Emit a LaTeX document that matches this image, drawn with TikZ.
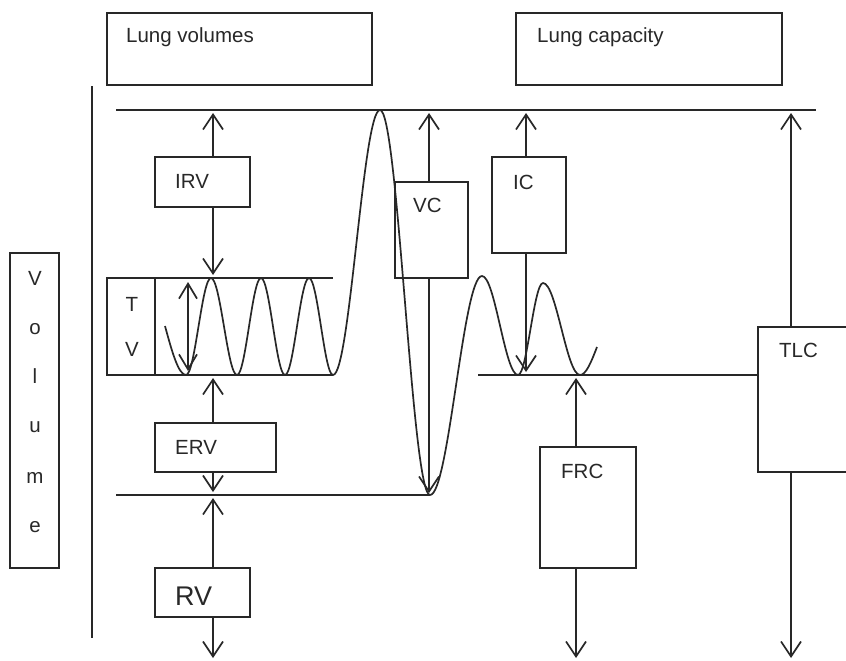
\documentclass[tikz,border=0pt]{standalone}
\usepackage{fontspec}
\setmainfont{Liberation Sans}
\usetikzlibrary{arrows.meta}
\definecolor{ink}{RGB}{40,40,40}
\tikzset{
  lw/.style={line width=1.7pt, draw=ink},
  box/.style={draw, lw, inner sep=0pt, outer sep=0pt, anchor=north west},
  txt/.style={inner sep=0pt, anchor=base west, text=ink, font=\fontsize{20.5}{24}\selectfont},
  bigtxt/.style={inner sep=0pt, anchor=base west, text=ink, font=\fontsize{27}{30}\selectfont},
  vtxt/.style={inner sep=0pt, anchor=base, text=ink, font=\fontsize{20.5}{24}\selectfont},
  arr/.style={lw, -{Straight Barb[length=15pt,width=20pt,line width=1.7pt]}},
  darr/.style={lw, {Straight Barb[length=15pt,width=18pt,line width=1.7pt]}-{Straight Barb[length=15pt,width=18pt,line width=1.7pt]}},
  wave/.style={lw, line join=round}
}
\begin{document}
\begin{tikzpicture}[x=1pt,y=-1pt]
\path[use as bounding box, clip] (0,0) rectangle (846,661);
\fill[white] (0,0) rectangle (846,661);

% header boxes
\node[box, minimum width=265pt, minimum height=72pt] (lv) at (107,13) {};
\node[txt] (lvt) at (126,43) {Lung volumes};
\node[box, minimum width=266pt, minimum height=72pt] (lc) at (516,13) {};
\node[txt] (lct) at (537,43) {Lung capacity};

% Volume axis label
\node[box, minimum width=49pt, minimum height=315pt] (vol) at (10,253) {};
\node[vtxt] (v1) at (35,285) {V};
\node[vtxt] (v2) at (35,334) {o};
\node[vtxt] (v3) at (35,383) {l};
\node[vtxt] (v4) at (35,432) {u};
\node[vtxt] (v5) at (35,483) {m};
\node[vtxt] (v6) at (35,532) {e};
\coordinate (axT) at (92,86);
\coordinate (axB) at (92,638);
\draw[lw, line width=2pt] (axT) -- (axB);

% level lines
\coordinate (topL) at (116,110);
\coordinate (topR) at (816,110);
\draw[lw, line width=1.9pt] (topL) -- (topR);
\coordinate (ervL) at (116,495);
\coordinate (ervR) at (430,495);
\draw[lw] (ervL) -- (ervR);

% TV box and lines
\node[box, minimum width=48pt, minimum height=97pt] (tv) at (107,278) {};
\node[txt, anchor=base] (tvt1) at (132,311) {T};
\node[txt, anchor=base] (tvt2) at (132,356) {V};
\coordinate (tvR1) at (333,278);
\coordinate (tvR2) at (333,375);
\draw[lw] (tv.north east) -- (tvR1);
\draw[lw] (tv.south east) -- (tvR2);

% value boxes
\node[box, minimum width=95pt, minimum height=50pt] (irv) at (155,157) {};
\node[txt] (irvt) at (175,188) {IRV};
\node[box, minimum width=121pt, minimum height=49pt] (erv) at (155,423) {};
\node[txt] (ervt) at (175,454) {ERV};
\node[box, minimum width=95pt, minimum height=49pt] (rv) at (155,568) {};
\node[bigtxt] (rvt) at (175,605) {RV};
\node[box, minimum width=73pt, minimum height=96pt] (vc) at (395,182) {};
\node[txt] (vct) at (413,212) {VC};
\node[box, minimum width=74pt, minimum height=96pt] (ic) at (492,157) {};
\node[txt] (ict) at (513,189) {IC};
\node[box, minimum width=96pt, minimum height=121pt] (frc) at (540,447) {};
\node[txt] (frct) at (561,478) {FRC};
\node[box, minimum width=112pt, minimum height=145pt] (tlc) at (758,327) {};
\node[txt] (tlct) at (779,357) {TLC};

% FRC level line
\coordinate (frcL) at (478,375);
\draw[lw] (frcL) -- (frcL -| tlc.west);

% arrow end coordinates
\coordinate (irvT) at (213,113);
\coordinate (irvB) at (213,275);
\coordinate (tvT) at (188,282);
\coordinate (tvB) at (188,371);
\coordinate (ervT) at (213,378);
\coordinate (ervB) at (213,492);
\coordinate (rvT) at (213,498);
\coordinate (rvB) at (213,658);
\coordinate (vcT) at (429,113);
\coordinate (vcB) at (429,493);
\coordinate (icT) at (526,113);
\coordinate (icB) at (526,372);
\coordinate (frcT) at (576,378);
\coordinate (frcB) at (576,658);
\coordinate (tlcT) at (791,113);
\coordinate (tlcB) at (791,658);

% arrows
\draw[arr] (irvT |- irv.north) -- (irvT);
\draw[arr] (irvB |- irv.south) -- (irvB);
\draw[darr] (tvB) -- (tvT);
\draw[arr] (ervT |- erv.north) -- (ervT);
\draw[arr] (ervB |- erv.south) -- (ervB);
\draw[arr] (rvT |- rv.north) -- (rvT);
\draw[arr] (rvB |- rv.south) -- (rvB);
\draw[arr] (vcT |- vc.north) -- (vcT);
\draw[arr] (vcB |- vc.south) -- (vcB);
\draw[arr] (icT |- ic.north) -- (icT);
\draw[arr] (icB |- ic.south) -- (icB);
\draw[arr] (frcT |- frc.north) -- (frcT);
\draw[arr] (frcB |- frc.south) -- (frcB);
\draw[arr] (tlcT |- tlc.north) -- (tlcT);
\draw[arr] (tlcB |- tlc.south) -- (tlcB);

% spirogram trace
\draw[wave] (165,326) sin (186,375) cos (198.5,326.5) sin (211,278)
  cos (224,326.5) sin (237,375) cos (249,326.5) sin (261,278)
  cos (273,326.5) sin (285,375) cos (297,326.5) sin (309,278)
  cos (321,326.5) sin (333,375) cos (356.5,242.5) sin (380,110)
  cos (405,302.5) sin (430,495) cos (456,385.5) sin (482,276)
  cos (500,325.5) sin (518,375) cos (530.5,329) sin (543,283)
  cos (561.5,329) sin (580,375) cos (597,347);
\end{tikzpicture}
\end{document}
